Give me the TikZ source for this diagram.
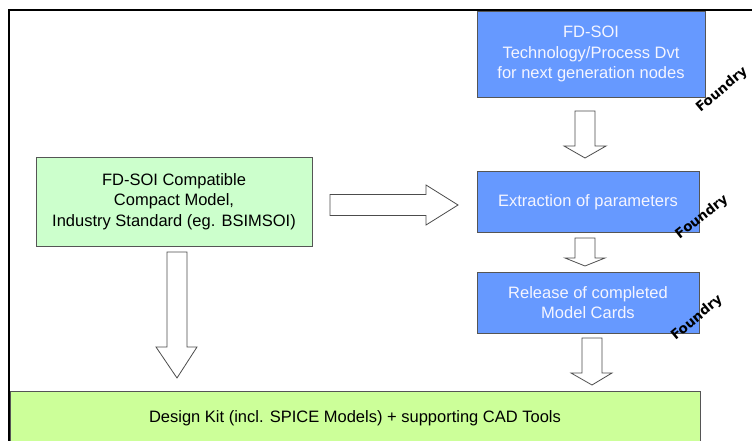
\documentclass[tikz,border=0pt]{standalone}
\usepackage{fontspec}
\setmainfont{Liberation Sans}
\newfontfamily\handfont{DejaVu Sans}
\definecolor{procblue}{RGB}{102,153,255}
\definecolor{modelgreen}{RGB}{204,255,204}
\definecolor{kitgreen}{RGB}{204,255,153}
\definecolor{boxedge}{RGB}{85,85,85}
\definecolor{boxtext}{RGB}{245,245,255}
\begin{document}
\begin{tikzpicture}[x=1pt,y=-1pt,
  procbox/.style={draw=boxedge, line width=0.9pt, fill=procblue, text=boxtext,
    align=center, inner sep=0pt, font=\fontsize{16.5}{20.5}\selectfont},
  modelbox/.style={draw=boxedge, line width=0.9pt, fill=modelgreen, text=black,
    align=center, inner sep=0pt, font=\fontsize{16.5}{20.5}\selectfont},
  kitbox/.style={draw=boxedge, line width=0.9pt, fill=kitgreen, text=black,
    inner sep=0pt},
  blockarrow/.style={draw=black!70, line width=0.8pt, fill=white, line join=miter},
  foundrytag/.style={font=\handfont\bfseries\fontsize{13.5}{16}\selectfont, text=black, inner sep=0pt},
]
\useasboundingbox (0,0) rectangle (752,441);

% page frame (top and left edges)
\draw[line width=2pt] (9,441) -- (9,10) -- (752,10);

% boxes
\node[procbox, minimum width=228pt, minimum height=86pt] (tech) at (591,54)
  {FD-SOI\\Technology/Process Dvt\\for next generation nodes};
\node[procbox, minimum width=222pt, minimum height=61pt] (extract) at (588,202)
  {Extraction of parameters};
\node[procbox, minimum width=222pt, minimum height=61pt] (release) at (588,302.5)
  {Release of completed\\Model Cards};
\node[modelbox, minimum width=276pt, minimum height=89pt] (model) at (174,201.5)
  {FD-SOI Compatible\\Compact Model,\\Industry Standard (eg. BSIMSOI)};
\node[kitbox, minimum width=690pt, minimum height=60pt, anchor=north west] (kit) at (10,391) {};
\node[font=\fontsize{16.5}{18}\selectfont] (kittext) at (355,418)
  {Design Kit (incl. SPICE Models) + supporting CAD Tools};

% foundry tags
\node[foundrytag, rotate=40] (f1) at (722,90) {Foundry};
\node[foundrytag, rotate=38] (f2) at (702,217) {Foundry};
\node[foundrytag, rotate=40] (f3) at (697,318) {Foundry};

% block arrows
\draw[blockarrow] (575,111) -- (595,111) -- (595,146) -- (606,146) -- (585,158)
  -- (564,146) -- (575,146) -- cycle;
\draw[blockarrow] (575,238) -- (595,238) -- (595,258) -- (605,258) -- (585,266)
  -- (565,258) -- (575,258) -- cycle;
\draw[blockarrow] (582,338) -- (602,338) -- (602,373) -- (612,373) -- (592,385)
  -- (571,373) -- (582,373) -- cycle;
\draw[blockarrow] (167,252) -- (187,252) -- (187,347) -- (197,347) -- (177,378)
  -- (156,347) -- (167,347) -- cycle;
\draw[blockarrow] (330,194.5) -- (426,194.5) -- (426,185) -- (458,205) -- (426,225)
  -- (426,215.5) -- (330,215.5) -- cycle;
\end{tikzpicture}
\end{document}
